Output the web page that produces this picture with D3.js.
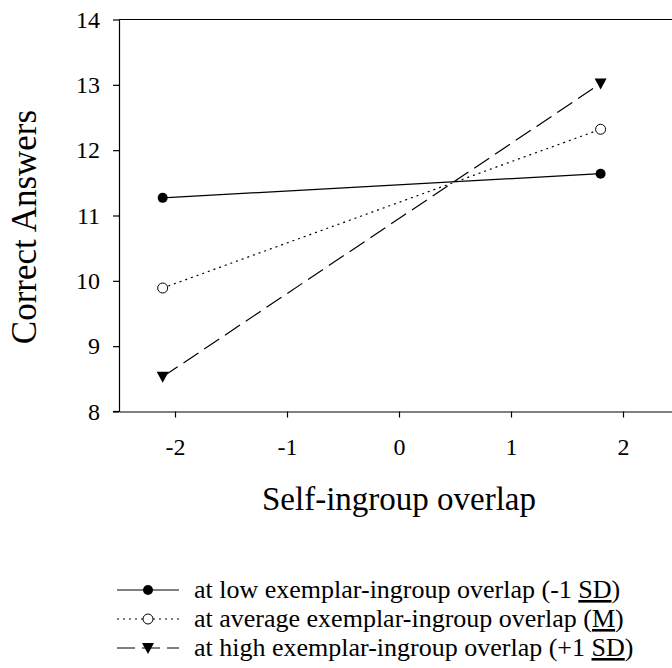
<!DOCTYPE html>
<html>
<head>
<meta charset="utf-8">
<script src="https://cdn.jsdelivr.net/npm/d3@7/dist/d3.min.js"></script>
<style>
    body { margin: 0; background: #fff; }
    svg { display: block; }
    svg text { font-family: "Liberation Serif", "Times New Roman", serif; fill: #000; }
</style>
</head>
<body>
<svg id="chart" width="672" height="668"></svg>
<script>
    // Data
    const xPoints = [-2.11, 1.80];
    const lowValues = [11.27, 11.64];
    const avgValues = [9.89, 12.32];
    const highValues = [8.53, 13.02];
    const xTicks = [-2, -1, 0, 1, 2];
    const yTicks = [8, 9, 10, 11, 12, 13, 14];
    const seriesNames = ['low', 'average', 'high'];
    const legendLabels = [
        ['at low exemplar-ingroup overlap (-1 ', 'SD', ')'],
        ['at average exemplar-ingroup overlap (', 'M', ')'],
        ['at high exemplar-ingroup overlap (+1 ', 'SD', ')']
    ];

    const series = [
        { name: seriesNames[0], values: lowValues, dash: null, marker: 'dot' },
        { name: seriesNames[1], values: avgValues, dash: '2,4', marker: 'ring' },
        { name: seriesNames[2], values: highValues, dash: '18,7', marker: 'tri' }
    ];

    const FONT = '"Liberation Serif", "Times New Roman", serif';
    const svg = d3.select('#chart');
    const plotLeft = 119, plotTop = 19.5, plotBottom = 411.5;

    const xScale = d3.scaleLinear().domain([-2.5, 2.5]).range([plotLeft, plotLeft + 560]);
    const yScale = d3.scaleLinear().domain([8, 14]).range([plotBottom, plotTop]);

    // Frame top line
    svg.append('line')
        .attr('x1', plotLeft).attr('x2', 672)
        .attr('y1', plotTop).attr('y2', plotTop)
        .attr('stroke', '#000').attr('stroke-width', 1.2);

    // Axes
    const yAxis = svg.append('g')
        .attr('transform', `translate(${plotLeft},0)`)
        .call(d3.axisLeft(yScale).tickValues(yTicks).tickFormat(d3.format('d'))
            .tickSize(6).tickPadding(13).tickSizeOuter(0));
    const xAxis = svg.append('g')
        .attr('transform', `translate(0,${plotBottom})`)
        .call(d3.axisBottom(xScale).tickValues(xTicks).tickFormat(d => String(d))
            .tickSize(6).tickPadding(20).tickSizeOuter(0));

    [xAxis, yAxis].forEach(ax => {
        ax.attr('font-family', FONT).attr('font-size', 24);
        ax.select('.domain').attr('stroke', '#000').attr('stroke-width', 1.2);
        ax.selectAll('.tick line').attr('stroke', '#000').attr('stroke-width', 1.2);
        ax.selectAll('text').attr('fill', '#000');
    });
    // left axis meets bottom axis at the 8 tick
    svg.append('line')
        .attr('x1', plotLeft - 6).attr('x2', plotLeft)
        .attr('y1', plotBottom).attr('y2', plotBottom)
        .attr('stroke', '#000').attr('stroke-width', 1.2);

    // Axis titles
    svg.append('text')
        .attr('transform', `translate(36,227) rotate(-90)`)
        .attr('text-anchor', 'middle')
        .attr('font-size', 35)
        .text('Correct Answers');

    svg.append('text')
        .attr('x', xScale(0))
        .attr('y', 510)
        .attr('text-anchor', 'middle')
        .attr('font-size', 33)
        .text('Self-ingroup overlap');

    // Marker drawing helper
    function drawMarker(sel, type, x, y) {
        if (type === 'dot') {
            sel.append('circle').attr('cx', x).attr('cy', y).attr('r', 5).attr('fill', '#000');
        } else if (type === 'ring') {
            sel.append('circle').attr('cx', x).attr('cy', y).attr('r', 5)
                .attr('fill', '#fff').attr('stroke', '#000').attr('stroke-width', 1);
        } else {
            sel.append('path')
                .attr('d', `M${x - 6},${y - 5}L${x + 6},${y - 5}L${x},${y + 6}Z`)
                .attr('fill', '#000');
        }
    }

    const line = d3.line()
        .x((d, i) => xScale(xPoints[i]))
        .y(d => yScale(d));

    const plot = svg.append('g');
    series.forEach(s => {
        plot.append('path')
            .datum(s.values)
            .attr('fill', 'none')
            .attr('stroke', '#000')
            .attr('stroke-width', 1.2)
            .attr('stroke-dasharray', s.dash)
            .attr('d', line);
    });
    series.forEach(s => {
        s.values.forEach((v, i) => drawMarker(plot, s.marker, xScale(xPoints[i]), yScale(v)));
    });

    // Legend
    const legend = svg.append('g');
    series.forEach((s, i) => {
        const y = 590 + i * 29;
        legend.append('line')
            .attr('x1', 117).attr('x2', 179)
            .attr('y1', y).attr('y2', y)
            .attr('stroke', '#000').attr('stroke-width', 1.2)
            .attr('stroke-dasharray', s.dash);
        drawMarker(legend, s.marker, 148, y);
        const t = legend.append('text')
            .attr('x', 194).attr('y', y + 8)
            .attr('font-size', 26);
        t.append('tspan').text(legendLabels[i][0]);
        t.append('tspan').attr('text-decoration', 'underline').text(legendLabels[i][1]);
        t.append('tspan').text(legendLabels[i][2]);
    });
</script>
</body>
</html>
